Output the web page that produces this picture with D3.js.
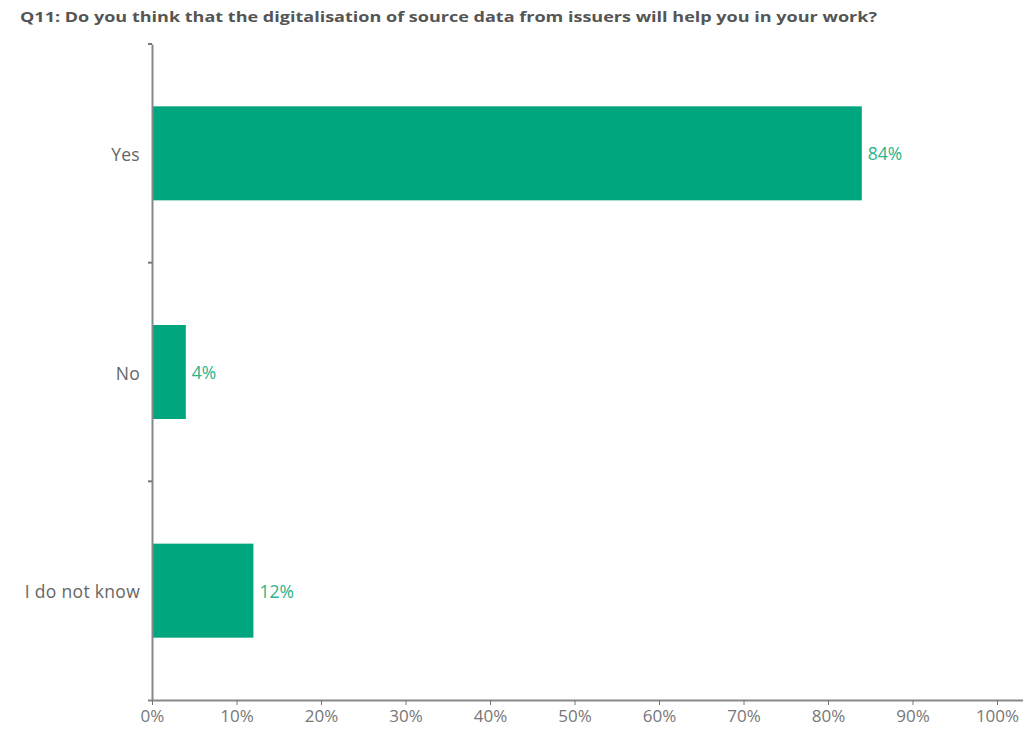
<!DOCTYPE html>
<html>
<head>
<meta charset="utf-8">
<script src="https://cdn.jsdelivr.net/npm/d3@7"></script>
<style>
  body { margin: 0; background: #fff; }
  text { font-family: "Open Sans", Roboto, sans-serif; }
</style>
</head>
<body>
<div id="chart"></div>
<script>
// data
const categories = ['Yes', 'No', 'I do not know'];
const values = [84, 4, 12];
const xTicks = [0, 10, 20, 30, 40, 50, 60, 70, 80, 90, 100];

const width = 1023, height = 729;
const margin = {top: 44, right: 26, bottom: 29, left: 152};

const svg = d3.select('#chart')
  .append('svg')
    .attr('width', width)
    .attr('height', height);

// title
svg.append('text')
  .attr('x', 20)
  .attr('y', 22)
  .attr('font-size', 14.5)
  .attr('font-weight', 'bold')
  .attr('fill', '#555')
  .attr('textLength', 857)
  .attr('lengthAdjust', 'spacingAndGlyphs')
  .text('Q11: Do you think that the digitalisation of source data from issuers will help you in your work?');

const x = d3.scaleLinear()
  .domain([0, 100])
  .range([margin.left, width - margin.right]);

const y = d3.scaleBand()
  .domain(categories)
  .range([margin.top, height - margin.bottom])
  .paddingInner(0.57)
  .paddingOuter(0.285);

// bars
svg.selectAll('rect.bar')
  .data(values)
  .join('rect')
    .attr('class', 'bar')
    .attr('x', x(0))
    .attr('y', (d, i) => y(categories[i]))
    .attr('width', d => x(d) - x(0))
    .attr('height', y.bandwidth())
    .attr('fill', '#00a67e');

// value labels
svg.selectAll('text.val')
  .data(values)
  .join('text')
    .attr('class', 'val')
    .attr('x', d => x(d) + 6)
    .attr('y', (d, i) => y(categories[i]) + y.bandwidth() / 2 + 1)
    .attr('dy', '0.35em')
    .attr('font-size', 17.5)
    .attr('fill', '#2bb38a')
    .text(d => d + '%');

// x axis
const xAxis = svg.append('g')
  .attr('transform', `translate(0,${height - margin.bottom})`)
  .call(d3.axisBottom(x).tickValues(xTicks).tickFormat(d => d + '%').tickSize(5).tickSizeOuter(0));
xAxis.select('.domain').attr('stroke', '#888').attr('stroke-width', 2)
  .attr('d', `M${margin.left - 4},0.5H${width}`);
xAxis.selectAll('.tick line').attr('stroke', '#777');
xAxis.selectAll('.tick text').attr('font-size', 17).attr('fill', '#777').attr('dy', '0.85em')
  .attr('font-family', '"Open Sans", sans-serif');

// y axis: labels at band centres, ticks at band boundaries
const yAxis = svg.append('g')
  .attr('transform', `translate(${margin.left},0)`)
  .call(d3.axisLeft(y).tickSize(0).tickPadding(12));
yAxis.select('.domain').attr('stroke', '#888').attr('stroke-width', 2);
yAxis.selectAll('.tick text').attr('font-size', 17.5).attr('fill', '#666')
  .attr('font-family', '"Open Sans", sans-serif')
  .attr('letter-spacing', 0.3)
  .attr('y', 2);

const bounds = d3.range(categories.length).map(i => margin.top + i * y.step());
yAxis.selectAll('line.bound')
  .data(bounds)
  .join('line')
    .attr('class', 'bound')
    .attr('x1', -4)
    .attr('x2', 0)
    .attr('y1', d => d)
    .attr('y2', d => d)
    .attr('stroke', '#777')
    .attr('stroke-width', 2);
</script>
</body>
</html>
